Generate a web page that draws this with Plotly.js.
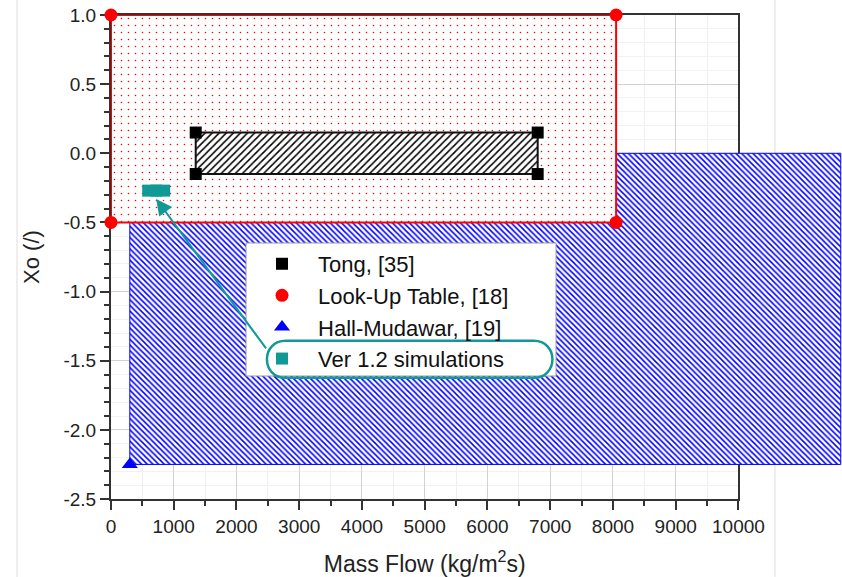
<!DOCTYPE html>
<html>
<head>
<meta charset="utf-8">
<script src="https://cdn.plot.ly/plotly-3.0.1.min.js"></script>
<style>html,body{margin:0;padding:0;background:#fff}#chart{width:842px;height:577px}</style>
</head>
<body>
<div id="chart"></div>
<script>
// ---- data ----
const seriesNames = ['Tong, [35]', 'Look-Up Table, [18]', 'Hall-Mudawar, [19]', 'Ver 1.2 simulations'];
const tongX = [1350, 6800, 6800, 1350];
const tongY = [0.15, 0.15, -0.15, -0.15];
const lutX = [0, 8050, 8050, 0];
const lutY = [1.0, 1.0, -0.5, -0.5];
const hallRegionX = [300, 11630, 11630, 300];
const hallRegionY = [0, 0, -2.25, -2.25];
const hallX = [300];
const hallY = [-2.25];
const simX = [720];
const simY = [-0.27];
const xTickVals = [0, 1000, 2000, 3000, 4000, 5000, 6000, 7000, 8000, 9000, 10000];
const xTickText = ['0', '1000', '2000', '3000', '4000', '5000', '6000', '7000', '8000', '9000', '10000'];
const yTickVals = [-2.5, -2.0, -1.5, -1.0, -0.5, 0.0, 0.5, 1.0];
const yTickText = ['-2.5', '-2.0', '-1.5', '-1.0', '-0.5', '0.0', '0.5', '1.0'];

// ---- styling ----
const TEAL = '#119995';
const X2_MAX = 11650;
const FRAME_FRAC = 10000 / X2_MAX;
const close = a => a.concat([a[0]]);

const traces = [
  { x: close(hallRegionX), y: close(hallRegionY), xaxis: 'x2', yaxis: 'y2', mode: 'lines', fill: 'toself',
    fillcolor: '#0000ff', fillpattern: { shape: '\\', fgcolor: '#0000ff', bgcolor: '#ffffff', size: 4, solidity: 0.38 },
    line: { color: '#0000ff', width: 1 }, showlegend: false, hoverinfo: 'skip' },
  { x: close(lutX), y: close(lutY), xaxis: 'x2', yaxis: 'y2', mode: 'lines', fill: 'toself',
    fillcolor: '#ff0000', fillpattern: { shape: '.', fgcolor: '#ff0000', bgcolor: '#ffffff', size: 7, solidity: 0.04 },
    line: { color: '#ff0000', width: 2 }, showlegend: false, hoverinfo: 'skip' },
  { x: close(tongX), y: close(tongY), xaxis: 'x2', yaxis: 'y2', mode: 'lines', fill: 'toself',
    fillcolor: '#000000', fillpattern: { shape: '/', fgcolor: '#000000', bgcolor: '#ffffff', size: 5, solidity: 0.3 },
    line: { color: '#111111', width: 2 }, showlegend: false, hoverinfo: 'skip' },
  { x: tongX, y: tongY, xaxis: 'x2', yaxis: 'y2', mode: 'markers', name: seriesNames[0], cliponaxis: false,
    marker: { symbol: 'square', size: 12, color: '#000000' } },
  { x: lutX, y: lutY, xaxis: 'x2', yaxis: 'y2', mode: 'markers', name: seriesNames[1], cliponaxis: false,
    marker: { symbol: 'circle', size: 13, color: '#ff0000' } },
  { x: hallX, y: hallY, xaxis: 'x2', yaxis: 'y2', mode: 'markers', name: seriesNames[2], cliponaxis: false,
    marker: { symbol: 'triangle-up', size: 14, color: '#0000ff' } },
  { x: simX, y: simY, xaxis: 'x2', yaxis: 'y2', mode: 'markers', name: seriesNames[3], cliponaxis: false,
    marker: { symbol: 'square', size: 12, color: TEAL } },
  { x: simX, y: simY, xaxis: 'x2', yaxis: 'y2', mode: 'markers', showlegend: false, cliponaxis: false, hoverinfo: 'skip',
    marker: { symbol: 'line-ew', size: 20, color: TEAL, line: { color: TEAL, width: 12 } } }
];

const axisCommon = {
  ticks: 'outside', ticklen: 9, tickwidth: 2, tickcolor: '#333',
  showline: true, linecolor: '#333', linewidth: 2, mirror: true,
  showgrid: true, gridcolor: '#d2d2d2', gridwidth: 1, zeroline: false,
  tickfont: { size: 19, color: '#222' }, fixedrange: true
};

const layout = {
  width: 842, height: 577,
  margin: { l: 111, r: 0, t: 15, b: 78 },
  paper_bgcolor: '#ffffff', plot_bgcolor: 'rgba(0,0,0,0)',
  font: { family: 'Liberation Sans, Arial, sans-serif', color: '#222' },
  xaxis: Object.assign({}, axisCommon, {
    domain: [0, FRAME_FRAC], range: [0, 10000], tickmode: 'array', tickvals: xTickVals, ticktext: xTickText,
    minor: { tickmode: 'linear', tick0: 0, dtick: 500, ticks: 'outside', ticklen: 5, tickwidth: 2, tickcolor: '#333', showgrid: true, gridcolor: '#efefef' },
    title: { text: 'Mass Flow (kg/m<sup>2</sup>s)', font: { size: 23, color: '#222' }, standoff: 21 }
  }),
  yaxis: Object.assign({}, axisCommon, {
    domain: [0, 1], range: [-2.5, 1.0], tickmode: 'array', tickvals: yTickVals, ticktext: yTickText,
    minor: { tickmode: 'linear', tick0: 0, dtick: 0.1, ticks: 'outside', ticklen: 5, tickwidth: 2, tickcolor: '#333', showgrid: true, gridcolor: '#f2f2f2' },
    title: { text: 'Xo (/)', font: { size: 22, color: '#222' }, standoff: 18 }
  }),
  xaxis2: { domain: [0, 1], range: [0, X2_MAX], visible: false, anchor: 'y2', fixedrange: true },
  yaxis2: { domain: [0, 1], range: [-2.5, 1.0], visible: false, anchor: 'x2', fixedrange: true },
  legend: {
    x: 0.1847, y: 0.529, xanchor: 'left', yanchor: 'top',
    bgcolor: 'rgba(0,0,0,0)', borderwidth: 0,
    font: { size: 22, color: '#111' }, itemwidth: 62, tracegroupgap: 0
  },
  shapes: [
    { type: 'line', xref: 'paper', yref: 'paper', x0: -0.1286, x1: -0.1286, y0: -0.161, y1: 1.031, layer: 'below', line: { color: '#dedede', width: 1 } },
    { type: 'line', xref: 'paper', yref: 'paper', x0: 0.9083, x1: 0.9083, y0: -0.161, y1: 1.031, layer: 'below', line: { color: '#dedede', width: 1 } },
    { type: 'rect', xref: 'paper', yref: 'paper', x0: 0.1847, x1: 0.6088, y0: 0.2541, y1: 0.5289, layer: 'above',
      fillcolor: '#ffffff', line: { color: '#9a9a9a', width: 1 } },
    { type: 'path', xref: 'x', yref: 'y', xsizemode: 'pixel', ysizemode: 'pixel', xanchor: 4760, yanchor: -1.49,
      path: 'M -124,-18.5 L 124,-18.5 C 149,-18.5 149,18.5 124,18.5 L -124,18.5 C -149,18.5 -149,-18.5 -124,-18.5 Z',
      line: { color: TEAL, width: 2.5 }, layer: 'above' }
  ],
  annotations: [
    { xref: 'x2', yref: 'y2', x: simX[0], y: -0.33, ax: 111, ay: 151, text: '', showarrow: true,
      arrowhead: 2, arrowsize: 1.6, arrowwidth: 2, arrowcolor: TEAL, standoff: 0 }
  ]
};

Plotly.newPlot('chart', traces, layout, { displayModeBar: false, responsive: false });
</script>
</body>
</html>
